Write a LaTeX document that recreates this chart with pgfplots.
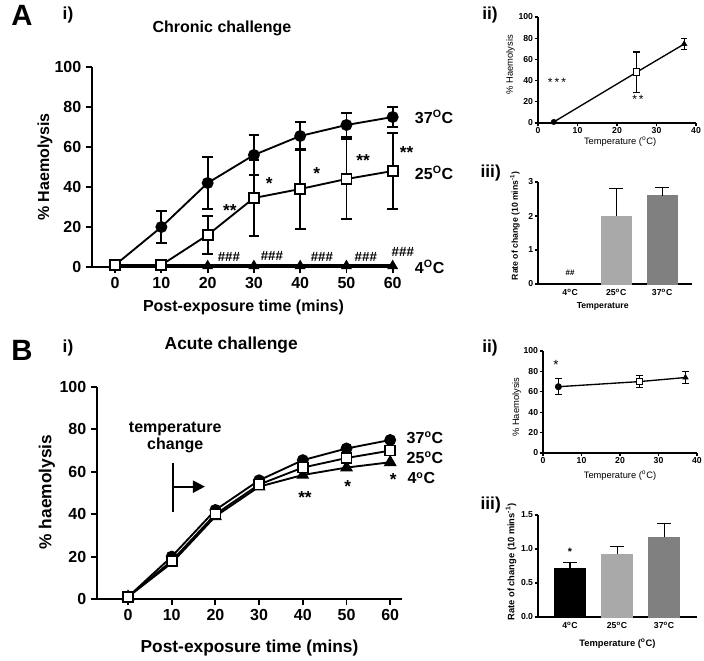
\documentclass[border=0pt]{standalone}
\usepackage{fontspec}
\setmainfont{Liberation Sans}
\usepackage{pgfplots}
\pgfplotsset{compat=1.18}
\usetikzlibrary{arrows.meta}
\newcommand\fs[1]{\fontsize{#1}{#1}\selectfont}
\definecolor{lg}{HTML}{A9A9A9}
\definecolor{dg}{HTML}{808080}
\pgfplotsset{
 gp/.style={scale only axis, axis lines*=left, axis line style={-, line width=1.4pt},
   every tick/.style={black, line width=1.4pt}, tick align=outside, major tick length=4.5pt,
   clip=false, /pgf/number format/assume math mode=true,
   ticklabel style={font=\bfseries\fs{12}}, label style={font=\bfseries\fs{12}},
   title style={font=\bfseries\fs{12}}},
 sm/.style={scale only axis, axis lines*=left, axis line style={-, line width=0.9pt},
   every tick/.style={black, line width=0.9pt}, tick align=outside, major tick length=2.5pt,
   clip=false, /pgf/number format/assume math mode=true,
   ticklabel style={font=\bfseries\fs{6.5}, inner sep=1pt}, label style={font=\fs{7}}},
 eb/.style={error bars/.cd, y dir=both, y explicit, error bar style={line width=1.4pt},
   error mark options={rotate=90, line width=1.4pt, mark size=4pt}},
 ebs/.style={error bars/.cd, y dir=both, y explicit, error bar style={line width=0.8pt},
   error mark options={rotate=90, line width=0.8pt, mark size=2.5pt}},
 ebb/.style={error bars/.cd, y dir=plus, y explicit, error bar style={black, line width=0.8pt},
   error mark options={rotate=90, black, line width=0.8pt, mark size=5pt}},
}
\pgfplotstableread{
x y ey
0 1 0
10 20 8
20 42 13
30 56 10
40 65.5 7
50 71 6
60 75 5
}\Athirtyseven
\pgfplotstableread{
x y ey
0 1 0
10 1 0
20 16 9.5
30 34.5 19
40 39 20
50 44 20
60 48 19
}\Atwentyfive
\begin{document}
\begin{tikzpicture}
\useasboundingbox (0,0) rectangle (528pt,-495.75pt);
% panel letters
\node[font=\bfseries\fs{22}] at (16.5pt,-11.25pt) {A};
\node[font=\bfseries\fs{13}] at (51pt,-11.25pt) {i)};
\node[font=\bfseries\fs{13}] at (367.5pt,-11.25pt) {ii)};
\node[font=\bfseries\fs{13}] at (368pt,-129.75pt) {iii)};
\node[font=\bfseries\fs{22}] at (16.5pt,-262.5pt) {B};
\node[font=\bfseries\fs{13}] at (51pt,-261pt) {i)};
\node[font=\bfseries\fs{13}] at (367.5pt,-261pt) {ii)};
\node[font=\bfseries\fs{13}] at (368pt,-378.75pt) {iii)};

% ---------- A i ----------
\begin{axis}[gp, at={(69pt,-200.25pt)}, anchor=south west, width=227.25pt, height=150pt,
 xmin=-5, xmax=60.5, ymin=0, ymax=100, xtick={0,10,...,60}, ytick={0,20,...,100},
 xlabel={Post-exposure time (mins)}, ylabel={\% Haemolysis},
 xlabel style={at={(axis description cs:0.5,-0.2)}, anchor=center},
 ylabel style={at={(axis description cs:-0.155,0.5)}, anchor=center},
 title={Chronic challenge}, title style={at={(axis description cs:0.429,1.155)}, anchor=center}]
\addplot[line width=2.4pt, mark=triangle*, mark size=4pt, mark options={line width=0.8pt}]
 coordinates {(0,0.5) (10,0.5) (20,0.5) (30,0.5) (40,0.5) (50,0.5) (60,0.5)};
\addplot[black, line width=1.4pt, mark=*, mark size=3.75pt, eb] table[x=x, y=y, y error=ey] {\Athirtyseven};
\addplot[black, line width=1.4pt, mark=square*, mark size=3.75pt, mark options={fill=white, line width=1.4pt}, eb] table[x=x, y=y, y error=ey] {\Atwentyfive};
\node[font=\bfseries\fs{13}] at (axis cs:24.8,28) {**};
\node[font=\bfseries\fs{13}] at (axis cs:33.3,41.5) {*};
\node[font=\bfseries\fs{13}] at (axis cs:43.6,46.5) {*};
\node[font=\bfseries\fs{13}] at (axis cs:53.6,53) {**};
\node[font=\bfseries\fs{13}] at (axis cs:63,57) {**};
\node[font=\bfseries\fs{10}] at (axis cs:24.6,5) {\#\#\#};
\node[font=\bfseries\fs{10}] at (axis cs:33.9,5.5) {\#\#\#};
\node[font=\bfseries\fs{10}] at (axis cs:44.7,5) {\#\#\#};
\node[font=\bfseries\fs{10}] at (axis cs:54.2,5) {\#\#\#};
\node[font=\bfseries\fs{10}] at (axis cs:62.2,7.5) {\#\#\#};
\node[font=\bfseries\fs{12}, anchor=west] at (axis cs:63.8,75) {37\textsuperscript{O}C};
\node[font=\bfseries\fs{12}, anchor=west] at (axis cs:63.8,47) {25\textsuperscript{O}C};
\node[font=\bfseries\fs{12}, anchor=west] at (axis cs:63.8,0) {4\textsuperscript{O}C};
\end{axis}

% ---------- B i ----------
\begin{axis}[gp, at={(72.75pt,-449.25pt)}, anchor=south west, width=228.75pt, height=159pt,
 xmin=-7.1, xmax=62.7, ymin=0, ymax=100, xtick={0,10,...,60}, ytick={0,20,...,100},
 label style={font=\bfseries\fs{13}}, title style={font=\bfseries\fs{13}},
 xlabel={Post-exposure time (mins)}, ylabel={\% haemolysis},
 xlabel style={at={(axis description cs:0.5,-0.231)}, anchor=center},
 ylabel style={at={(axis description cs:-0.164,0.505)}, anchor=center},
 title={Acute challenge}, title style={at={(axis description cs:0.44,1.16)}, anchor=center}]
\addplot[black, line width=1.4pt, mark=triangle*, mark size=4.2pt]
 coordinates {(0,1) (10,17) (20,39) (30,53) (40,58.5) (50,62) (60,64.5)};
\addplot[black, line width=1.4pt, mark=*, mark size=3.75pt]
 coordinates {(0,1) (10,20) (20,42) (30,56) (40,65.5) (50,71) (60,75)};
\addplot[black, line width=1.4pt, mark=square*, mark size=3.75pt, mark options={fill=white, line width=1.2pt}]
 coordinates {(0,1) (10,18) (20,40) (30,54) (40,62) (50,66.5) (60,70)};
\node[font=\bfseries\fs{12}, align=center] at (axis cs:10.8,76.2) {temperature\\[1pt]change};
\draw[line width=1.6pt] (axis cs:10.3,41) -- (axis cs:10.3,64);
\draw[line width=1.6pt, -{Triangle[length=9pt,width=9pt]}] (axis cs:10.3,53) -- (axis cs:17.6,53);
\node[font=\bfseries\fs{13}] at (axis cs:40.5,48) {**};
\node[font=\bfseries\fs{13}] at (axis cs:50.3,53) {*};
\node[font=\bfseries\fs{13}] at (axis cs:60.7,56.5) {*};
\node[font=\bfseries\fs{12}, anchor=west] at (axis cs:62.7,76) {37\textsuperscript{o}C};
\node[font=\bfseries\fs{12}, anchor=west] at (axis cs:62.7,66.5) {25\textsuperscript{o}C};
\node[font=\bfseries\fs{12}, anchor=west] at (axis cs:62.9,57) {4\textsuperscript{o}C};
\end{axis}

% ---------- A ii ----------
\begin{axis}[sm, at={(403.5pt,-92.25pt)}, anchor=south west, width=118.5pt, height=79.5pt,
 xmin=0, xmax=40, ymin=0, ymax=100, xtick={0,10,...,40}, ytick={0,20,...,100},
 xlabel={Temperature (\textsuperscript{o}C)}, ylabel={\% Haemolysis},
 xlabel style={at={(axis description cs:0.52,-0.175)}, anchor=center},
 ylabel style={at={(axis description cs:-0.175,0.55)}, anchor=center}]
\addplot[black, line width=1pt] coordinates {(4,1) (25,48) (37,74.5)};
\addplot[black, only marks, mark=*, mark size=2pt] coordinates {(4,1)};
\addplot[black, only marks, mark=square*, mark size=2.4pt, mark options={fill=white, line width=0.7pt}, ebs] coordinates {(25,48) +- (0,19)};
\addplot[black, only marks, mark=triangle*, mark size=2.4pt, ebs] coordinates {(37,74.5) +- (0,5)};
\node[font=\fs{9}] at (axis cs:4.8,38.5) {*\,*\,*};
\node[font=\fs{9}] at (axis cs:25.3,22) {*\,*};
\end{axis}

% ---------- A iii ----------
\begin{axis}[sm, at={(403.5pt,-213pt)}, anchor=south west, width=115.5pt, height=76.5pt,
 ybar, bar width=0.66, bar shift=0pt,
 xmin=-0.7, xmax=2.65, ymin=0, ymax=3, xtick={0,1,2}, ytick={0,1,2,3},
 xticklabels={4\textsuperscript{o}C,25\textsuperscript{o}C,37\textsuperscript{o}C},
 xtick style={draw=none},
 label style={font=\bfseries\fs{6.5}},
 xlabel={Temperature}, ylabel={Rate of change (10 mins\textsuperscript{-1})},
 xlabel style={at={(axis description cs:0.42,-0.22)}, anchor=center},
 ylabel style={at={(axis description cs:-0.15,0.57)}, anchor=center}]
\addplot[fill=black, draw=black] coordinates {(0,0.03)};
\addplot[fill=lg, draw=lg, ebb] coordinates {(1,2.0) +- (0,0.8)};
\addplot[fill=dg, draw=dg, ebb] coordinates {(2,2.6) +- (0,0.23)};
\node[font=\bfseries\fs{6}] at (axis cs:0,0.33) {\#\#};
\end{axis}

% ---------- B ii ----------
\begin{axis}[sm, at={(407.25pt,-339.75pt)}, anchor=south west, width=115.5pt, height=76.5pt,
 xmin=0, xmax=40, ymin=0, ymax=100, xtick={0,10,...,40}, ytick={0,20,...,100},
 xlabel={Temperature (\textsuperscript{o}C)}, ylabel={\% Haemolysis},
 xlabel style={at={(axis description cs:0.5,-0.22)}, anchor=center},
 ylabel style={at={(axis description cs:-0.17,0.45)}, anchor=center}]
\addplot[black, line width=1pt] coordinates {(4,65) (25,70) (37,74)};
\addplot[black, only marks, mark=*, mark size=2.4pt, ebs] coordinates {(4,65) +- (0,8)};
\addplot[black, only marks, mark=square*, mark size=2.4pt, mark options={fill=white, line width=0.7pt}, ebs] coordinates {(25,70) +- (0,6)};
\addplot[black, only marks, mark=triangle*, mark size=2.4pt, ebs] coordinates {(37,74) +- (0,5.5)};
\node[font=\fs{10}] at (axis cs:3.4,86) {*};
\end{axis}

% ---------- B iii ----------
\begin{axis}[sm, at={(403.5pt,-462.75pt)}, anchor=south west, width=119.25pt, height=76.5pt,
 ybar, bar width=0.66, bar shift=0pt,
 xmin=-0.68, xmax=2.7, ymin=0, ymax=1.5, xtick={0,1,2}, ytick={0,0.5,1,1.5},
 yticklabel style={/pgf/number format/.cd, fixed, fixed zerofill, precision=1},
 xticklabels={4\textsuperscript{o}C,25\textsuperscript{o}C,37\textsuperscript{o}C},
 xtick style={draw=none},
 label style={font=\bfseries\fs{7}},
 xlabel={Temperature (\textsuperscript{o}C)}, ylabel={Rate of change (10 mins\textsuperscript{-1})},
 xlabel style={at={(axis description cs:0.5,-0.26)}, anchor=center},
 ylabel style={at={(axis description cs:-0.17,0.54)}, anchor=center}]
\addplot[fill=black, draw=black, ebb] coordinates {(0,0.72) +- (0,0.08)};
\addplot[fill=lg, draw=lg, ebb] coordinates {(1,0.93) +- (0,0.11)};
\addplot[fill=dg, draw=dg, ebb] coordinates {(2,1.17) +- (0,0.21)};
\node[font=\bfseries\fs{8}] at (axis cs:0,0.96) {*};
\end{axis}
\end{tikzpicture}
\end{document}
